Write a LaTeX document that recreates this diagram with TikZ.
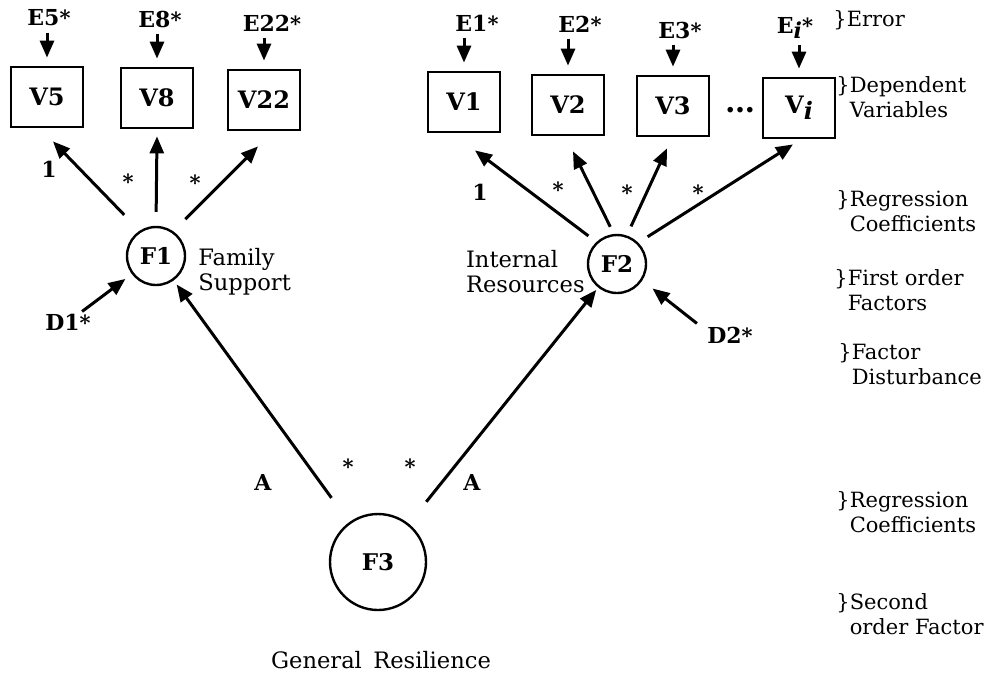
\documentclass[tikz,border=0pt]{standalone}
\usepackage{fontspec}
\setmainfont{DejaVu Serif}
\usetikzlibrary{arrows.meta, positioning, calc}
\newcommand{\fstar}{\raisebox{0ex}{\bfseries\fontsize{10.5}{10.5}\selectfont *}}

\begin{document}
\begin{tikzpicture}[x=0.5pt, y=-0.5pt,
    obsvar/.style={draw, line width=1.4pt, minimum width=36pt, minimum height=30pt, inner sep=0pt, font=\bfseries\fontsize{12}{14}\selectfont},
    factor/.style={circle, draw, line width=1.2pt, minimum size=29pt, inner sep=0pt, font=\bfseries\fontsize{11.5}{13}\selectfont},
    err/.style={inner sep=1pt, font=\bfseries\fontsize{11}{13}\selectfont},
    coef/.style={inner sep=0pt, font=\bfseries\fontsize{11}{13}\selectfont},
    desc/.style={align=left, inner sep=0pt, font=\fontsize{11.3}{12.5}\selectfont},
    sidelbl/.style={align=left, anchor=west, inner sep=0pt, font=\fontsize{10.5}{12.5}\selectfont},
    arr/.style={-{Triangle[length=8.5pt, width=7pt]}, line width=1.5pt}]
  \useasboundingbox (0,0) rectangle (997,677);

  % dependent variables
  \node[obsvar] (v5) at (47,97) {V5};
  \node[obsvar] (v8) at (157,98) {V8};
  \node[obsvar] (v22) at (264,100) {V22};
  \node[obsvar] (v1) at (464,102) {V1};
  \node[obsvar] (v2) at (568,105) {V2};
  \node[obsvar] (v3) at (673,106) {V3};
  \node[obsvar] (vi) at (799,108) {V\raisebox{-.5ex}{\itshape i}};
  \node[coef, anchor=base, font=\bfseries\fontsize{15}{15}\selectfont] (dots) at (740,112) {\dots};

  % errors
  \node[err] (e5) at (49,18) {E5\fstar};
  \node[err] (e8) at (160,19) {E8\fstar};
  \node[err] (e22) at (272,23) {E22\fstar};
  \node[err] (e1) at (477,23) {E1\fstar};
  \node[err] (e2) at (580,24) {E2\fstar};
  \node[err] (e3) at (680,30) {E3\fstar};
  \node[err] (ei) at (795,28) {E\raisebox{-.4ex}{\itshape i}\fstar};
  \foreach \v in {5,8,22,1,2,3,i}
    \draw[arr, shorten <=2pt, shorten >=4pt] (e\v.south -| v\v.north) -- (v\v.north);

  % factors
  \node[factor] (f1) at (156,256) {F1};
  \node[factor] (f2) at (617,264) {F2};
  \node[factor, minimum size=48pt] (f3) at (378,562) {F3};
  \node[desc, anchor=west] (famsup) at (198,272) {Family\\Support};
  \node[desc, anchor=east] (intres) at (585,272) {Internal\\Resources};
  \node[desc] (genres) at (381,660) {General\hspace{.5em}Resilience};

  % disturbances
  \node[err] (d1) at (68,322) {D1\fstar};
  \node[err] (d2) at (730,335) {D2\fstar};
  \draw[arr, shorten >=4pt] (d1) -- (f1);
  \draw[arr, shorten >=6.5pt] ($(d2.north west)+(-8,-1)$) -- (f2.-33);

  % first order loadings
  \draw[arr, shorten <=11pt] (f1.123) -- ($(v5.south)+(6,13)$);
  \draw[arr, shorten <=7pt] (f1.90) -- ($(v8.south)+(0,7)$);
  \draw[arr, shorten <=8.5pt] (f1.55) -- ($(v22.south)+(-6,15)$);
  \draw[arr, shorten <=5pt] (f2.133) -- ($(v1.south)+(11,17)$);
  \draw[arr, shorten <=4pt] (f2.96) -- ($(v2.south)+(5,15)$);
  \draw[arr, shorten <=5pt] (f2.71) -- ($(v3.south)+(-6,11)$);
  \draw[arr, shorten <=5.5pt] (f2.45) -- ($(vi.south)+(-6,5)$);
  \node[coef] (c5) at (49,169) {1};
  \node[coef] (c8) at (128,182) {\fstar};
  \node[coef] (c22) at (195,183) {\fstar};
  \node[coef] (c1) at (480,192) {1};
  \node[coef] (c2) at (558,190) {\fstar};
  \node[coef] (c3) at (627,193) {\fstar};
  \node[coef] (ci) at (698,193) {\fstar};

  % second order loadings
  \draw[arr, shorten <=15pt, shorten >=2.5pt] (f3) -- (f1);
  \draw[arr, shorten <=14pt, shorten >=1.5pt] (f3) -- (f2);
  \node[coef] (a1) at (263,482) {A};
  \node[coef] (s1) at (348,467) {\fstar};
  \node[coef] (s2) at (410,467) {\fstar};
  \node[coef] (a2) at (472,482) {A};

  % level labels
  \node[sidelbl] (lerr) at (833,20) {\}Error};
  \node[sidelbl] (ldep) at (836,97) {\}Dependent\\\hphantom{\}}Variables};
  \node[sidelbl] (lreg1) at (836,211) {\}Regression\\\hphantom{\}}Coefficients};
  \node[sidelbl] (lfirst) at (834,290) {\}First order\\\hphantom{\}}Factors};
  \node[sidelbl] (ldist) at (838,364) {\}Factor\\\hphantom{\}}Disturbance};
  \node[sidelbl] (lreg2) at (836,512) {\}Regression\\\hphantom{\}}Coefficients};
  \node[sidelbl] (lsec) at (836,614) {\}Second\\\hphantom{\}}order Factor};
\end{tikzpicture}
\end{document}
